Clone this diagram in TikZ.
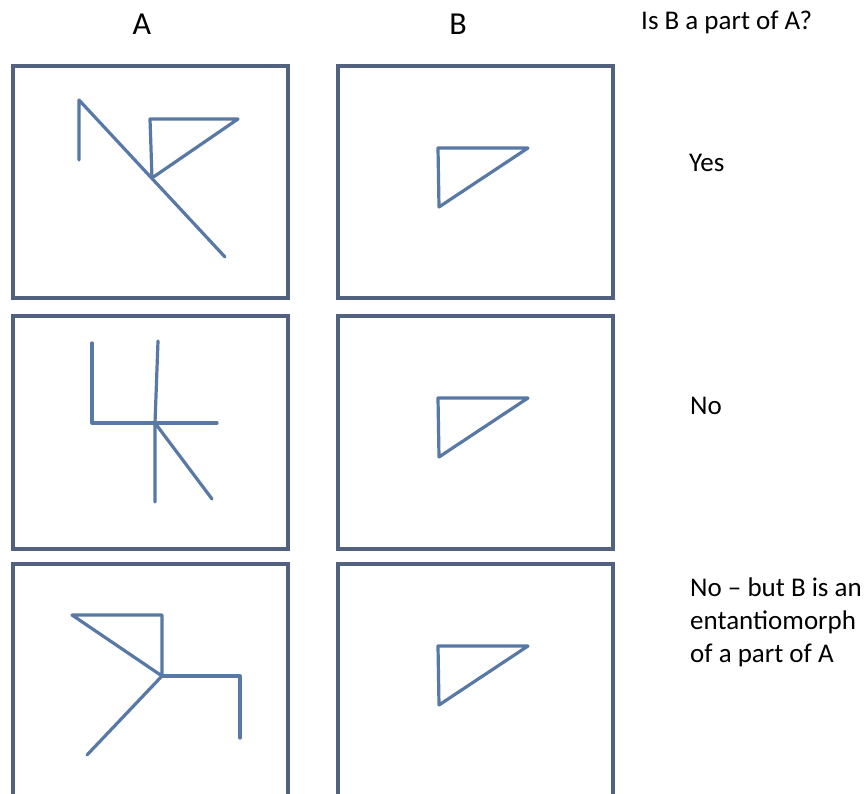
\documentclass[tikz,border=0pt]{standalone}
\usepackage{fontspec}
\setmainfont{Carlito}
\usepackage{tikz}
\usepackage{xcolor}
\definecolor{frameblue}{RGB}{82,98,126}
\definecolor{penblue}{RGB}{88,120,166}
\tikzset{
  panel/.style={draw=frameblue,line width=3.2pt},
  pen/.style={draw=penblue,line width=3.2pt,line cap=round,line join=round},
  head/.style={font=\fontsize{32}{38}\selectfont,anchor=base},
  answer/.style={font=\fontsize{27}{33}\selectfont,anchor=base west,align=left,inner sep=0pt}
}

\begin{document}
\begin{tikzpicture}[x=1pt,y=-1pt]
\clip (0,0) rectangle (868,794);
\fill[white] (0,0) rectangle (868,794);
\node[head] (colA) at (142,35) {A};
\node[head] (colB) at (458,35) {B};
\node[answer] (question) at (641,29.5) {Is B a part of A?};
\draw[panel] (13,66) rectangle (288,298);
\draw[panel] (338,66) rectangle (613,298);
\draw[panel] (13,316) rectangle (288,549);
\draw[panel] (338,316) rectangle (613,549);
\draw[panel] (13,564) rectangle (288,830);
\draw[panel] (338,564) rectangle (613,830);
% row 1
\draw[pen] (79,160) -- (79,100) -- (225,257);
\draw[pen] (152,178) -- (150,119) -- (238,119) -- cycle;
\draw[pen] (438,148) -- (528,148) -- (439,207) -- cycle;
\node[answer] (ans1) at (689,172) {Yes};
% row 2
\draw[pen] (92,343) -- (92,423) -- (155,423);
\draw[pen] (158,341) -- (155,423) -- (155,502);
\draw[pen] (155,423) -- (217,423);
\draw[pen] (155,423) -- (212,499);
\draw[pen] (438,398) -- (528,398) -- (439,457) -- cycle;
\node[answer] (ans2) at (690,414) {No};
% row 3
\draw[pen] (72,615) -- (162,615) -- (162,676) -- cycle;
\draw[pen] (162,676) -- (240,676) -- (240,738);
\draw[pen] (162,676) -- (87,755);
\draw[pen] (438,646) -- (528,646) -- (439,705) -- cycle;
\node[answer] (ans3) at (690,662) {No -- but B is an\\entantiomorph\\of a part of A};
\end{tikzpicture}
\end{document}
